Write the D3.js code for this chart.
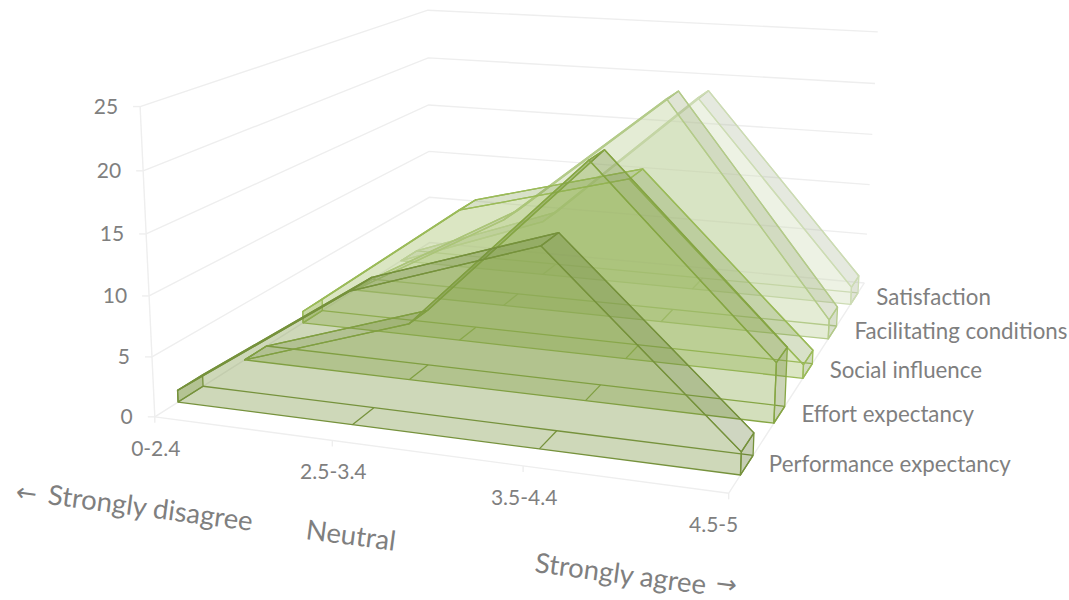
<!DOCTYPE html>
<html lang="en">
<head>
<meta charset="UTF-8">
<title>3D area chart</title>
<script src="https://d3js.org/d3.v7.min.js"></script>
<style>
body { margin: 0; background: #fff; }
text { font-family: Lato, "Open Sans", sans-serif; fill: #7f7f7f; }
</style>
</head>
<body>
<script>
var w = 1069, h = 600;

var categories = ["0-2.4", "2.5-3.4", "3.5-4.4", "4.5-5"];
var seriesNames = ["Performance expectancy", "Effort expectancy", "Social influence", "Facilitating conditions", "Satisfaction"];
var performance = [1, 10.9, 15.9, 1.8];
var effort = [0, 4.9, 20, 5];
var social = [1.1, 12, 16, 1.2];
var facilitating = [0, 8.4, 20.9, 1.8];
var satisfaction = [0, 5.5, 19, 1.7];
var valueTicks = [0, 5, 10, 15, 20, 25];
var seriesValues = [performance, effort, social, facilitating, satisfaction];
var seriesColors = ["#76923c", "#86a644", "#9bbb59", "#b4cb8a", "#cddcb4"];

// unit cube scales
var xScale = d3.scalePoint().domain(categories).range([0, 1]);
var yScale = d3.scaleLinear().domain([0, 25]).range([0, 1]);
var zScale = d3.scaleBand().domain(seriesNames).range([0, 1]).paddingInner(0.64).paddingOuter(0.32);

// camera: unit cube corners as they sit on the page, fitted to a 3x4 projection
var anchors = [
    [0, 0, 0, 155, 417], [1, 0, 0, 729, 493], [0, 1, 0, 140, 107], [0, 0.2, 0, 152, 356],
    [1 / 3, 0, 0, 332, 441], [2 / 3, 0, 0, 523, 466], [0, 0, 1, 430, 243], [1, 0, 1, 865, 283],
    [0, 1, 1, 428, 10], [1, 1, 1, 878, 32], [1, 0.2, 1, 866, 234], [0, 0.2, 1, 429, 197]
];

function fitCamera(pts) {
    var rows = [], rhs = [];
    pts.forEach(function (a) {
        rows.push([a[0], a[1], a[2], 1, 0, 0, 0, 0, -a[3] * a[0], -a[3] * a[1], -a[3] * a[2]]); rhs.push(a[3]);
        rows.push([0, 0, 0, 0, a[0], a[1], a[2], 1, -a[4] * a[0], -a[4] * a[1], -a[4] * a[2]]); rhs.push(a[4]);
    });
    var n = 11, m = [];
    for (var i = 0; i < n; i++) {
        m.push([]);
        for (var j = 0; j < n; j++) m[i].push(d3.sum(rows, function (r) { return r[i] * r[j]; }));
        m[i].push(d3.sum(rows, function (r, k) { return r[i] * rhs[k]; }));
    }
    for (i = 0; i < n; i++) {
        var piv = i;
        for (j = i + 1; j < n; j++) if (Math.abs(m[j][i]) > Math.abs(m[piv][i])) piv = j;
        var t = m[i]; m[i] = m[piv]; m[piv] = t;
        for (j = 0; j < n; j++) {
            if (j === i) continue;
            var f = m[j][i] / m[i][i];
            for (var k = i; k <= n; k++) m[j][k] -= f * m[i][k];
        }
    }
    return m.map(function (r, i) { return r[n] / r[i]; });
}
var cam = fitCamera(anchors);

function project(x, y, z) {
    var d = cam[8] * x + cam[9] * y + cam[10] * z + 1;
    return [(cam[0] * x + cam[1] * y + cam[2] * z + cam[3]) / d,
            (cam[4] * x + cam[5] * y + cam[6] * z + cam[7]) / d];
}

var svg = d3.select("body").append("svg").attr("width", w).attr("height", h);
var line = d3.line();
var poly = function (pts) { return line(pts) + "Z"; };

// walls and floor
var grid = svg.append("g").attr("fill", "none").attr("stroke", "#eeeeee").attr("stroke-width", 1.4);
valueTicks.forEach(function (v) {
    var y = yScale(v);
    grid.append("path").attr("d", line([project(1, y, 1), project(0, y, 1), project(0, y, 0)]));
    var p = project(0, y, 0);
    grid.append("path").attr("d", line([[p[0] - 7, p[1]], p]));
});
grid.append("path").attr("d", line([project(0, 0, 0), project(0, 1, 0)]));
grid.append("path").attr("d", line([project(0, 0, 0), project(1, 0, 0), project(1, 0, 1)]));
categories.forEach(function (c) {
    var p = project(xScale(c), 0, 0);
    grid.append("path").attr("d", line([p, [p[0], p[1] + 6]]));
});

// one area series: sides drawn from the back of the solid to the front
function drawSeries(name, i) {
    var values = seriesValues[i], color = seriesColors[i];
    var z0 = zScale(name), z1 = z0 + zScale.bandwidth();
    var shade = d3.color(color).darker(0.55).formatHex();
    var g = svg.append("g").attr("stroke", color).attr("stroke-width", 1.3).attr("stroke-linejoin", "round");

    var at = function (d, v, z) { return project(xScale(categories[d]), yScale(v), z); };
    var last = categories.length - 1;

    // floor outline and the back edge
    categories.forEach(function (c, d) {
        g.append("path").attr("fill", "none").attr("d", line([at(d, 0, z0), at(d, 0, z1)]));
    });
    g.append("path").attr("fill", "none").attr("d", line(values.map(function (v, d) { return at(d, 0, z1); })));
    g.append("path").attr("fill", "none").attr("d", line(values.map(function (v, d) { return at(d, v, z1); })));

    // left end
    g.append("path").attr("fill", color).attr("fill-opacity", 0.3)
        .attr("d", poly([at(0, 0, z0), at(0, 0, z1), at(0, values[0], z1), at(0, values[0], z0)]));

    // top sides
    d3.pairs(values).forEach(function (pair, d) {
        g.append("path").attr("fill", shade).attr("fill-opacity", 0.3)
            .attr("d", poly([at(d, pair[0], z0), at(d + 1, pair[1], z0), at(d + 1, pair[1], z1), at(d, pair[0], z1)]));
    });

    // right end
    g.append("path").attr("fill", shade).attr("fill-opacity", 0.36)
        .attr("d", poly([at(last, 0, z0), at(last, 0, z1), at(last, values[last], z1), at(last, values[last], z0)]));

    // front
    var outline = values.map(function (v, d) { return at(d, v, z0); })
        .concat(values.map(function (v, d) { return at(d, 0, z0); }).reverse());
    g.append("path").attr("fill", color).attr("fill-opacity", 0.36).attr("d", poly(outline));
}
seriesNames.slice().reverse().forEach(function (name) { drawSeries(name, seriesNames.indexOf(name)); });

// tick labels
svg.append("g").selectAll("text").data(valueTicks).join("text")
    .attr("text-anchor", "end").attr("font-size", 21)
    .attr("x", function (v) { return project(0, yScale(v), 0)[0] - 22; })
    .attr("y", function (v) { return project(0, yScale(v), 0)[1] + 7; })
    .text(function (v) { return v; });

svg.append("g").selectAll("text").data(categories).join("text")
    .attr("text-anchor", "middle").attr("font-size", 21)
    .attr("x", function (c, i) { return project(xScale(c), 0, 0)[0] + (i === categories.length - 1 ? -15 : 1); })
    .attr("y", function (c) { return project(xScale(c), 0, 0)[1] + 39; })
    .text(function (c) { return c; });

svg.append("g").selectAll("text").data(seriesNames).join("text")
    .attr("font-size", 22.3)
    .attr("x", function (s) { return project(1, 0, zScale(s) + zScale.bandwidth() / 2)[0] + 22; })
    .attr("y", function (s) { return project(1, 0, zScale(s) + zScale.bandwidth() / 2)[1] + 7; })
    .text(function (s) { return s; });

// hand placed captions under the axis
var captions = [
    ["Strongly disagree", 47, 504],
    ["Neutral", 305, 539],
    ["Strongly agree", 534, 572]
];
var arrows = [
    ["\u2190", 15, 500],
    ["\u2192", 715, 591]
];
svg.append("g").selectAll("text").data(captions).join("text")
    .attr("font-size", 27.5)
    .attr("transform", function (d) { return "translate(" + d[1] + "," + d[2] + ") rotate(7.5)"; })
    .text(function (d) { return d[0]; });
svg.append("g").selectAll("text").data(arrows).join("text")
    .attr("font-size", 25).style("font-family", "'DejaVu Sans'")
    .attr("transform", function (d) { return "translate(" + d[1] + "," + d[2] + ") rotate(7.5)"; })
    .text(function (d) { return d[0]; });
</script>
</body>
</html>
